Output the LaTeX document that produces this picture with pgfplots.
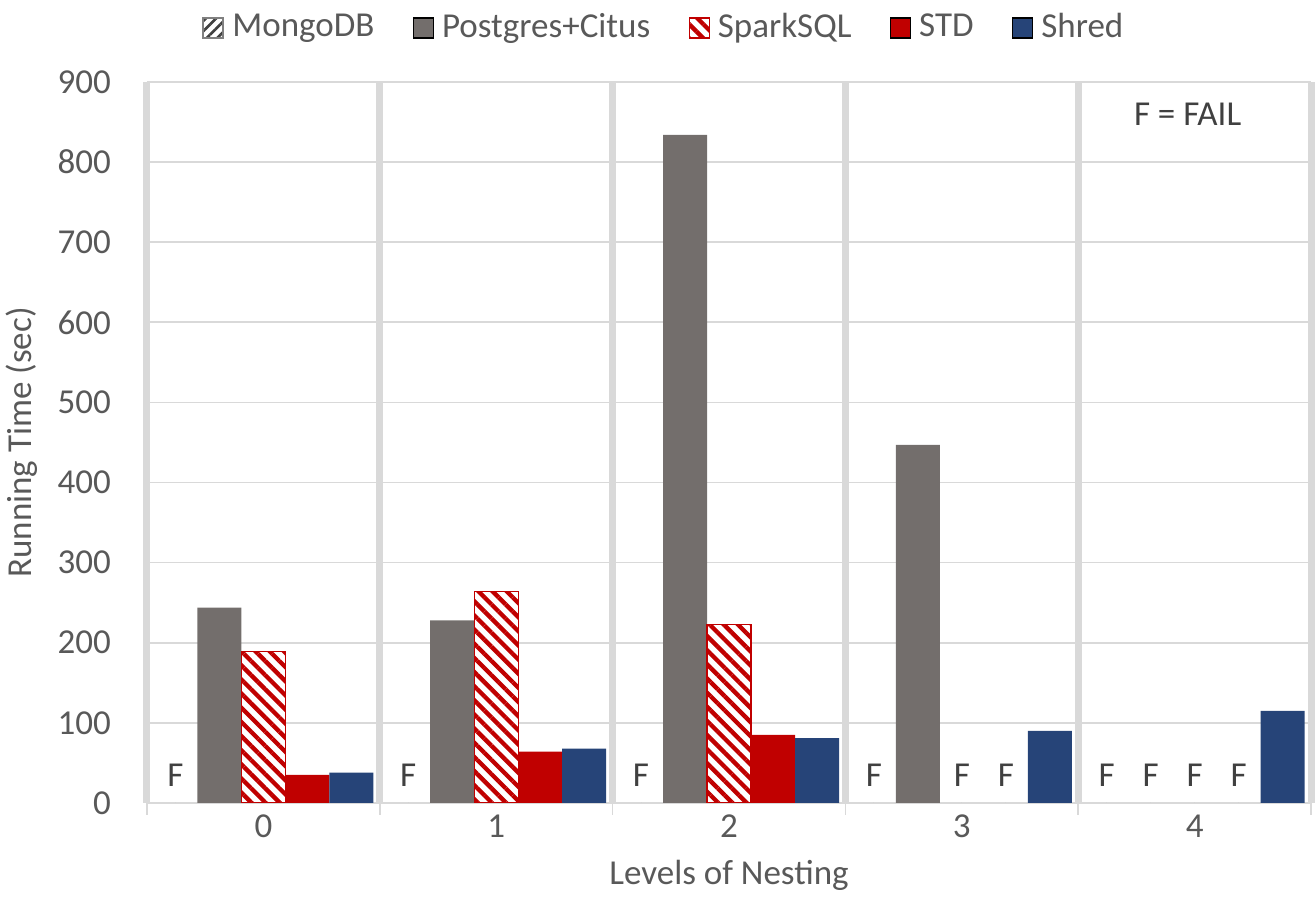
\documentclass[border=0pt]{standalone}
\usepackage{fontspec}
\setmainfont{Carlito}
\usepackage{pgfplots}
\pgfplotsset{compat=1.18}
\usetikzlibrary{patterns.meta}

\definecolor{pgGray}{RGB}{115,110,108}
\definecolor{stdRed}{RGB}{192,0,0}
\definecolor{shredBlue}{RGB}{38,68,120}
\definecolor{gridGray}{RGB}{217,217,217}
\definecolor{txtGray}{RGB}{89,89,89}
\definecolor{fGray}{RGB}{64,64,64}

\pgfplotsset{
  sqlegend/.style={legend image code/.code={\draw[##1] (0pt,-3pt) rectangle (6pt,3pt);}},
  nestbar/.style={ybar, bar width=0.189, bar shift=#1, sqlegend}
}

\begin{document}
\begin{tikzpicture}[font=\fontsize{10.5}{12.5}\selectfont]
\begin{axis}[
  scale only axis, width=349.2pt, height=216.3pt,
  xmin=-0.5, xmax=4.5, ymin=0, ymax=900,
  axis x line*=bottom, axis y line*=left,
  axis line style={-},
  x axis line style={gridGray, line width=0.5pt},
  y axis line style={draw=none},
  xtick={0,...,4}, ytick={0,100,...,900},
  major tick length=0pt,
  ymajorgrids,
  major grid style={gridGray, line width=0.5pt},
  extra x ticks={-0.5,0.5,1.5,2.5,3.5,4.5},
  extra x tick labels={},
  extra x tick style={grid=major, major grid style={gridGray, line width=2.1pt},
    major tick length=3.6pt, tick align=outside, tick style={gridGray, line width=0.5pt}},
  /pgf/number format/assume math mode=true,
  tick label style={text=txtGray},
  yticklabel style={xshift=-7.3pt},
  xlabel={Levels of Nesting},
  ylabel={Running Time (sec)},
  every axis x label/.style={at={(axis description cs:0.5,-0.0999)}, anchor=center, text=txtGray},
  every axis y label/.style={at={(axis description cs:-0.1074,0.5)}, rotate=90, anchor=center, text=txtGray},
  legend columns=-1,
  legend style={at={(axis description cs:0.4429,1.075)}, anchor=center, draw=none, fill=none,
    text=txtGray, inner sep=0pt, nodes={inner sep=0pt},
    /tikz/every odd column/.append style={column sep=2.4pt},
    /tikz/every even column/.append style={column sep=11.5pt}},
]
\addlegendimage{sqlegend, draw=gray, fill=white,
  postaction={pattern={Lines[angle=45,distance=2.2pt,line width=0.8pt]}, pattern color=darkgray}}
\addlegendentry{MongoDB}

\addplot[nestbar=-0.189, fill=pgGray, draw=none]
  coordinates {(0,244) (1,228) (2,834) (3,447)};
\addlegendentry{Postgres+Citus}

\addplot[nestbar=0, fill=white, draw=stdRed,
  postaction={pattern={Lines[angle=-45,distance=3pt,line width=1.3pt]}, pattern color=stdRed}]
  coordinates {(0,189) (1,264) (2,223)};
\addlegendentry{SparkSQL}

\addplot[nestbar=0.189, fill=stdRed, draw=none]
  coordinates {(0,35) (1,64) (2,85)};
\addlegendentry{STD}

\addplot[nestbar=0.378, fill=shredBlue, draw=none]
  coordinates {(0,38) (1,68) (2,81) (3,90) (4,115)};
\addlegendentry{Shred}

% failed runs
\addplot[only marks, mark=*, mark size=0pt, forget plot,
  nodes near coords={F},
  every node near coord/.append style={anchor=base, yshift=4.9pt, text=fGray}]
  coordinates {(-0.378,0) (0.622,0) (1.622,0) (2.622,0) (3,0) (3.189,0)
               (3.622,0) (3.811,0) (4,0) (4.189,0)};

\node[text=fGray] at (axis cs:3.97,860) {F = FAIL};
\end{axis}
\pgfresetboundingbox
\path ([xshift=-44.1pt,yshift=-34.8pt]current axis.south west)
  rectangle ([xshift=1.2pt,yshift=24.6pt]current axis.north east);
\end{tikzpicture}
\end{document}
